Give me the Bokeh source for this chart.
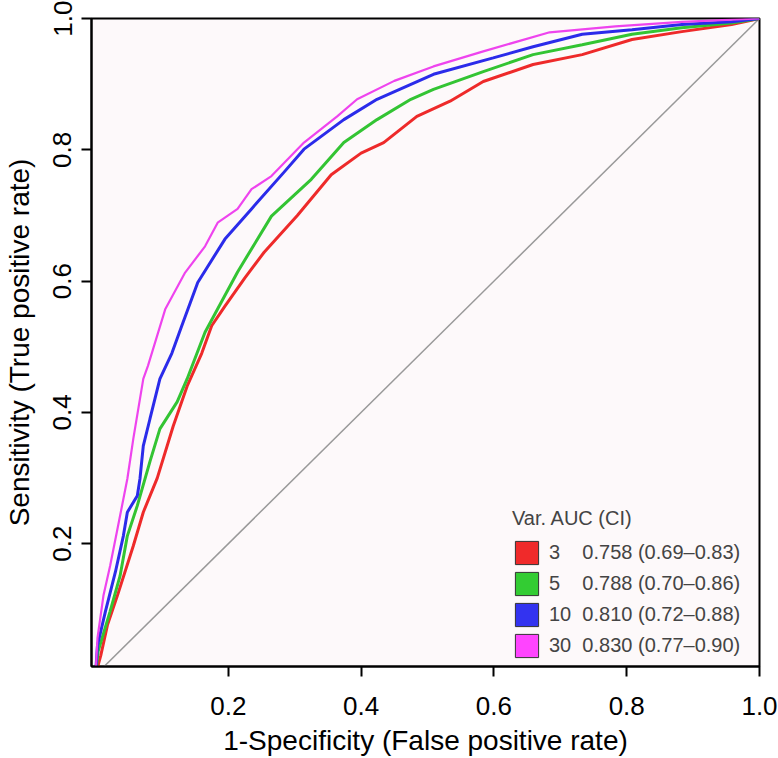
from bokeh.plotting import figure
from bokeh.models import Range1d, FixedTicker, PrintfTickFormatter, Legend, LegendItem, ColumnDataSource
from bokeh.core.properties import value
from bokeh.embed import file_html
from bokeh.resources import INLINE

# ---- data ----
red_x = [0, 0.008, 0.018, 0.033, 0.057, 0.072, 0.093, 0.117, 0.138, 0.16, 0.175, 0.195, 0.225, 0.254,
         0.304, 0.355, 0.40, 0.434, 0.484, 0.534, 0.584, 0.659, 0.733, 0.808, 0.883, 0.958, 1.0]
red_y = [0, 0.03, 0.076, 0.121, 0.197, 0.248, 0.30, 0.379, 0.44, 0.49, 0.532, 0.562, 0.605, 0.644,
         0.70, 0.762, 0.795, 0.811, 0.851, 0.874, 0.904, 0.930, 0.945, 0.968, 0.980, 0.991, 1.0]

green_x = [0, 0.004, 0.022, 0.037, 0.048, 0.063, 0.082, 0.097, 0.123, 0.138, 0.165, 0.214, 0.265,
           0.325, 0.374, 0.424, 0.475, 0.509, 0.584, 0.659, 0.733, 0.808, 0.883, 0.958, 1.0]
green_y = [0, 0.036, 0.097, 0.151, 0.212, 0.258, 0.325, 0.375, 0.416, 0.451, 0.522, 0.614, 0.699,
           0.755, 0.811, 0.846, 0.877, 0.892, 0.919, 0.945, 0.960, 0.976, 0.986, 0.993, 1.0]

blue_x = [0, 0.003, 0.015, 0.030, 0.042, 0.048, 0.063, 0.067, 0.072, 0.082, 0.097, 0.115, 0.130, 0.154,
          0.195, 0.235, 0.284, 0.314, 0.374, 0.424, 0.509, 0.599, 0.659, 0.733, 0.808, 0.883, 0.958, 1.0]
blue_y = [0, 0.045, 0.097, 0.157, 0.212, 0.248, 0.273, 0.299, 0.349, 0.390, 0.451, 0.49, 0.532, 0.598,
          0.664, 0.71, 0.766, 0.801, 0.846, 0.877, 0.915, 0.940, 0.957, 0.976, 0.983, 0.991, 0.995, 1.0]

magenta_x = [0, 0.003, 0.012, 0.022, 0.033, 0.048, 0.057, 0.072, 0.079, 0.105, 0.135, 0.165, 0.184,
             0.214, 0.235, 0.265, 0.314, 0.364, 0.394, 0.45, 0.509, 0.584, 0.684, 0.783, 0.883, 1.0]
magenta_y = [0, 0.056, 0.121, 0.166, 0.222, 0.299, 0.360, 0.451, 0.471, 0.557, 0.613, 0.653, 0.689,
             0.710, 0.740, 0.760, 0.811, 0.851, 0.877, 0.905, 0.927, 0.950, 0.979, 0.988, 0.995, 1.0]

diag_x = [0, 1]
diag_y = [0, 1]

var_labels = ["3", "5", "10", "30"]
auc_labels = ["0.758 (0.69\u20130.83)", "0.788 (0.70\u20130.86)", "0.810 (0.72\u20130.88)", "0.830 (0.77\u20130.90)"]
ticks = [0.2, 0.4, 0.6, 0.8, 1.0]

line_colors = ["#ee2a2a", "#33c433", "#2b2bea", "#ee44ee"]
box_colors = ["#f02a2a", "#33cc33", "#3333f0", "#ff44ff"]
FONT = "Liberation Sans"

p = figure(width=778, height=758, output_backend="svg", toolbar_location=None,
           x_range=Range1d(-0.006, 1.0), y_range=Range1d(0.013, 1.0),
           min_border_left=88, min_border_top=18, min_border_right=19, min_border_bottom=90)
p.background_fill_color = "#fdf9fa"
p.border_fill_color = "white"
p.outline_line_color = "black"
p.outline_line_width = 2
p.xgrid.visible = False
p.ygrid.visible = False

p.line(diag_x, diag_y, line_color="#999999", line_width=1.5)
series = [(red_x, red_y, 3), (green_x, green_y, 3), (blue_x, blue_y, 3), (magenta_x, magenta_y, 2.2)]
for (xs, ys, lw), c in zip(series, line_colors):
    p.line(xs, ys, line_color=c, line_width=lw)

for ax in (p.xaxis, p.yaxis):
    ax.ticker = FixedTicker(ticks=ticks)
    ax.formatter = PrintfTickFormatter(format="%.1f")
    ax.minor_tick_line_color = None
    ax.major_tick_out = 10
    ax.major_tick_in = 0
    ax.major_tick_line_width = 2
    ax.major_tick_line_color = "black"
    ax.axis_line_color = "black"
    ax.axis_line_width = 2
    ax.major_label_text_font = FONT
    ax.major_label_text_font_size = "26px"
    ax.major_label_text_color = "black"
    ax.axis_label_text_font = FONT
    ax.axis_label_text_font_size = "28px"
    ax.axis_label_text_font_style = "normal"
    ax.axis_label_text_color = "black"

p.xaxis.axis_label = "1-Specificity (False positive rate)"
p.yaxis.axis_label = "Sensitivity (True positive rate)"
p.xaxis.major_label_standoff = 20
p.xaxis.axis_label_standoff = 7
p.yaxis.major_label_standoff = 10
p.yaxis.axis_label_standoff = 16
p.yaxis.major_label_orientation = "vertical"

nan = float("nan")
items = []
for i, (v, a) in enumerate(zip(var_labels, auc_labels)):
    src = ColumnDataSource(dict(l=[nan], r=[nan], b=[nan], t=[nan]))
    r = p.quad(left="l", right="r", bottom="b", top="t", source=src,
               fill_color=box_colors[i], line_color="#333333", line_width=1)
    pad = "\u00a0" * (4 if len(v) == 1 else 2)
    items.append(LegendItem(label=value(v + pad + a), renderers=[r]))

legend = Legend(items=items, location=(421, 6), title="Var. AUC (CI)",
                title_text_font=FONT, title_text_font_size="20px", title_text_font_style="normal",
                title_standoff=8,
                label_text_font=FONT, label_text_font_size="20px", label_standoff=8,
                glyph_width=29, glyph_height=29, spacing=2, padding=0, margin=0,
                border_line_color=None, background_fill_alpha=0)
p.add_layout(legend, "center")

open("out.html", "w").write(file_html(p, INLINE))
